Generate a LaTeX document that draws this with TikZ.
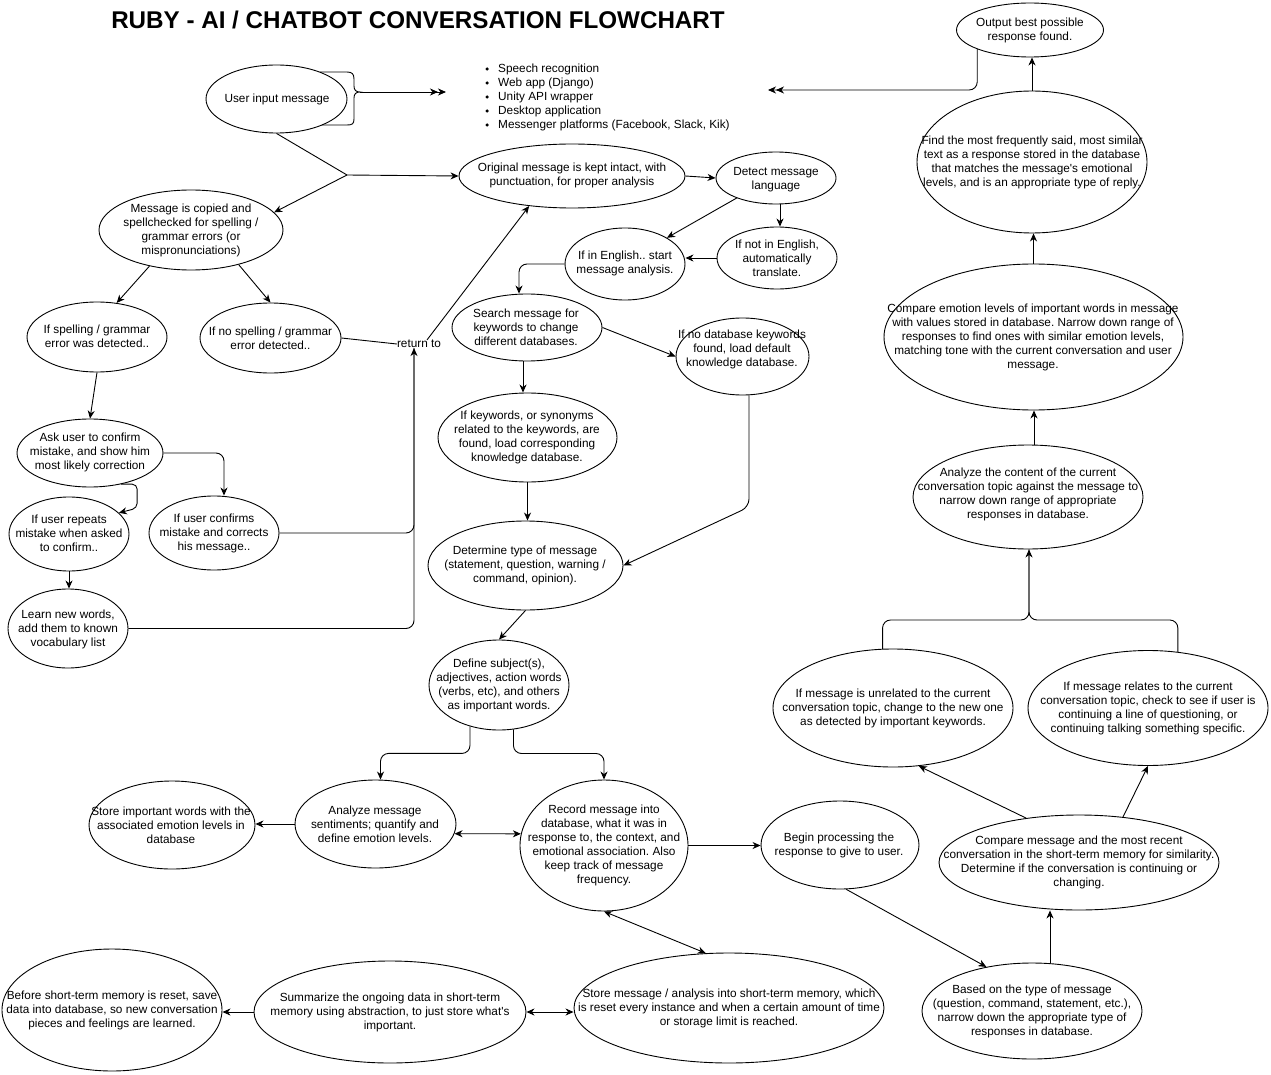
\documentclass[tikz,border=0pt]{standalone}
\usepackage{fontspec}
\setmainfont{Liberation Sans}[Ligatures=TeXOff]
\usetikzlibrary{shapes.geometric,arrows.meta}
\frenchspacing
\newcommand{\ellbox}[8]{%
  \node[ell,minimum width=#4pt,minimum height=#5pt] (#1) at (#2,#3) {};
  \node[txt] (#1-t) at (#6,#7) {#8};}
\begin{document}
\begin{tikzpicture}[x=1pt,y=-1pt,
  ell/.style={ellipse, draw, line width=0.9pt, inner sep=0pt},
  txt/.style={align=center, inner sep=0pt, font=\fontsize{11.8}{14}\selectfont},
  btxt/.style={txt, anchor=west, text height=8.7pt, text depth=2.5pt},
  dot/.style={circle, fill, inner sep=0pt, minimum size=3.5pt},
  conn/.style={draw, line width=0.9pt},
  >={Stealth[length=8pt,width=7pt,inset=2.5pt]}]
\useasboundingbox (0,0) rectangle (1271,1075);

\node[anchor=base, inner sep=0pt, font=\fontsize{24.2}{28}\selectfont\bfseries] (title) at (418,29) {RUBY - AI / CHATBOT CONVERSATION FLOWCHART};

% bullet list
\node[dot] (bd1) at (487,69) {};  \node[btxt] (bl1) at (498,69) {Speech recognition};
\node[dot] (bd2) at (487,83) {};  \node[btxt] (bl2) at (498,83) {Web app (Django)};
\node[dot] (bd3) at (487,97) {};  \node[btxt] (bl3) at (498,97) {Unity API wrapper};
\node[dot] (bd4) at (487,111) {}; \node[btxt] (bl4) at (498,111) {Desktop application};
\node[dot] (bd5) at (487,125) {}; \node[btxt] (bl5) at (498,125) {Messenger platforms (Facebook, Slack, Kik)};

% nodes
\ellbox{ui}{276.5}{99}{141}{68}{277}{99}{User input message}
\ellbox{orig}{572}{176}{226}{64}{572}{175}{Original message is kept intact, with\\punctuation, for proper analysis}
\ellbox{detect}{776}{178}{120}{52}{776}{180}{Detect message\\language}
\ellbox{english}{625}{264}{120}{72}{625}{263}{If in English.. start\\message analysis.}
\ellbox{noteng}{777}{258}{120}{62}{777}{258}{If not in English,\\automatically\\translate.}
\ellbox{copied}{191}{230}{184}{80}{191}{230}{Message is copied and\\spellchecked for spelling /\\grammar errors (or\\mispronunciations)}
\ellbox{spellerr}{97}{337}{140}{70}{97}{336}{If spelling / grammar\\error was detected..}
\ellbox{nospell}{270.5}{338}{141}{70}{270.5}{338}{If no spelling / grammar\\error detected..}
\node[txt] (ret) at (419,344) {return to};
\ellbox{search}{527}{327.5}{150}{67}{526}{327}{Search message for\\keywords to change\\different databases.}
\ellbox{nodb}{742.5}{356.5}{133}{77}{742}{349}{If no database keywords\\found, load default\\knowledge database.}
\ellbox{kw}{527.5}{437.5}{179}{89}{527}{437}{If keywords, or synonyms\\related to the keywords, are\\found, load corresponding\\knowledge database.}
\ellbox{ask}{90}{453}{146}{68}{90}{452}{Ask user to confirm\\mistake, and show him\\most likely correction}
\ellbox{repeats}{69}{534}{120}{74}{69}{533}{If user repeats\\mistake when asked\\to confirm..}
\ellbox{confirms}{214}{533}{130}{74}{214}{533}{If user confirms\\mistake and corrects\\his message..}
\ellbox{learn}{68}{628.5}{120}{79}{68}{629}{Learn new words,\\add them to known\\vocabulary list}
\ellbox{type}{525.5}{565.5}{195}{89}{525}{565}{Determine type of message\\(statement, question, warning /\\command, opinion).}
\ellbox{define}{499}{685}{140}{90}{499}{685}{Define subject(s),\\adjectives, action words\\(verbs, etc), and others\\as important words.}
\ellbox{storewords}{172}{825}{166}{88}{171}{825}{Store important words with the\\associated emotion levels in\\database}
\ellbox{sentiment}{375.5}{824}{161}{88}{375}{824}{Analyze message\\sentiments; quantify and\\define emotion levels.}
\ellbox{record}{604}{845.5}{168}{131}{604}{845}{Record message into\\database, what it was in\\response to, the context, and\\emotional association. Also\\keep track of message\\frequency.}
\ellbox{beginproc}{840}{845}{158}{88}{839}{845}{Begin processing the\\response to give to user.}
\ellbox{comprecent}{1079}{862.5}{280}{95}{1079}{862}{Compare message and the most recent\\conversation in the short-term memory for similarity.\\Determine if the conversation is continuing or\\changing.}
\ellbox{unrelated}{893}{708}{240}{118}{893}{708}{If message is unrelated to the current\\conversation topic, change to the new one\\as detected by important keywords.}
\ellbox{relates}{1148}{708}{240}{115}{1148}{708}{If message relates to the current\\conversation topic, check to see if user is\\continuing a line of questioning, or\\continuing talking something specific.}
\ellbox{content}{1028}{497}{230}{104}{1028}{494}{Analyze the content of the current\\conversation topic against the message to\\narrow down range of appropriate\\responses in database.}
\ellbox{compemo}{1033.5}{337}{299}{146}{1033}{337}{Compare emotion levels of important words in message\\with values stored in database. Narrow down range of\\responses to find ones with similar emotion levels,\\matching tone with the current conversation and user\\message.}
\ellbox{find}{1032}{162}{230}{142}{1032}{162}{Find the most frequently said, most similar\\text as a response stored in the database\\that matches the message's emotional\\levels, and is an appropriate type of reply.}
\ellbox{output}{1030}{30}{147}{54}{1030}{30}{Output best possible\\response found.}
\ellbox{basedon}{1032}{1011}{220}{96}{1032}{1011}{Based on the type of message\\(question, command, statement, etc.),\\narrow down the appropriate type of\\responses in database.}
\ellbox{stm}{729}{1008}{310}{110}{729}{1008}{Store message / analysis into short-term memory, which\\is reset every instance and when a certain amount of time\\or storage limit is reached.}
\ellbox{summarize}{390}{1012}{272}{102}{390}{1012}{Summarize the ongoing data in short-term\\memory using abstraction, to just store what's\\important.}
\ellbox{before}{112}{1010}{220}{122}{112}{1010}{Before short-term memory is reset, save\\data into database, so new conversation\\pieces and feelings are learned.}

% brace and top arrows
\draw[conn] (320,72) -- (347,72) .. controls (352,72) and (354,74) .. (354,79) -- (354,86)
  .. controls (354,90) and (356,92) .. (360,92) .. controls (356,92) and (354,94) .. (354,98)
  -- (354,119) .. controls (354,124) and (352,125) .. (347,125) -- (322,125);
\coordinate (brt) at (360,92);
\coordinate (blt) at (446,92);
\draw[conn,->>] (brt) -- (blt);
\coordinate (lt) at (768,90);
\draw[conn,<<-,rounded corners=8pt] (lt) -| (output.200);

% connectors
\coordinate (split) at (347,175);
\draw[conn] (ui.south) -- (split);
\draw[conn,->] (split) -- (orig.west);
\draw[conn,->] (split) -- (copied.12);
\draw[conn,->] (orig.east) -- (detect.west);
\draw[conn,->] (detect.207) -- (english.32);
\draw[conn,->] ([xshift=4pt]detect.south) -- ([xshift=4pt]detect.south |- noteng.north);
\draw[conn,->] (noteng.west) -- (noteng.west -| english.east);
\draw[conn,->,rounded corners=8pt] (english.west) -| ([xshift=-8pt]search.north);
\draw[conn,->] (search.east) -- (nodb.west);
\draw[conn,->] ([xshift=-4pt]search.south) -- ([xshift=-4pt]search.south |- kw.north);
\draw[conn,->] (kw.south) -- (kw.south |- type.north);
\coordinate (ndb) at (749,507);
\draw[conn,->,rounded corners=8pt] (nodb.south -| ndb) -- (ndb) -- (type.east);
\draw[conn,->] (copied.221) -- (spellerr.60);
\draw[conn,->] (copied.-36) -- (nospell.north);
\draw[conn] (nospell.east) -- (ret.west);
\draw[conn,->] ([xshift=8pt]ret.north) -- (orig.215);
\draw[conn,->] (spellerr.south) -- (ask.north);
\draw[conn,->,rounded corners=8pt] (ask.east) -| ([xshift=10pt]confirms.north);
\draw[conn,->,rounded corners=5pt] (ask.-45) -- ++(16,0) -- ++(0,24) -- (repeats.23);
\draw[conn,->] (repeats.south) -- (repeats.south |- learn.north);
\coordinate (vx) at (414,0);
\draw[conn,->,rounded corners=8pt] (learn.east) -| (ret.south -| vx);
\draw[conn,rounded corners=8pt] (confirms.east) -| (ret.south -| vx);
\draw[conn,->] (type.south) -- (define.north);
\draw[conn,->,rounded corners=8pt] (define.235) -- ++(0,27) -| ([xshift=5pt]sentiment.north);
\draw[conn,->,rounded corners=8pt] (define.-72) -- ++(0,24) -| (record.north);
\draw[conn,->] (sentiment.west) -- (sentiment.west -| storewords.east);
\draw[conn,<->] (sentiment.-7) -- (record.172);
\draw[conn,->] (record.east) -- (record.east -| beginproc.west);
\draw[conn,<->] (record.south) -- (stm.113);
\draw[conn,->] (beginproc.-82) -- (basedon.136);
\draw[conn,->] ([xshift=18pt]basedon.north) -- ([xshift=18pt]basedon.north |- comprecent.south);
\draw[conn,->] (comprecent.140) -- (unrelated.-66);
\draw[conn,->] (comprecent.46) -- (relates.south);
\coordinate (mrg) at (1029,620);
\draw[conn,->,rounded corners=8pt] (unrelated.100) |- (mrg) -- (content.south -| mrg);
\draw[conn,rounded corners=8pt] (relates.62) |- (mrg) -- (content.south -| mrg);
\draw[conn,->] ([xshift=6pt]content.north) -- ([xshift=6pt]content.north |- compemo.south);
\draw[conn,->] (compemo.north) -- (compemo.north |- find.south);
\draw[conn,->] (find.north) -- (find.north |- output.south);
\draw[conn,<->] (summarize.east) -- (summarize.east -| stm.west);
\draw[conn,->] (summarize.west) -- (summarize.west -| before.east);
\end{tikzpicture}
\end{document}
